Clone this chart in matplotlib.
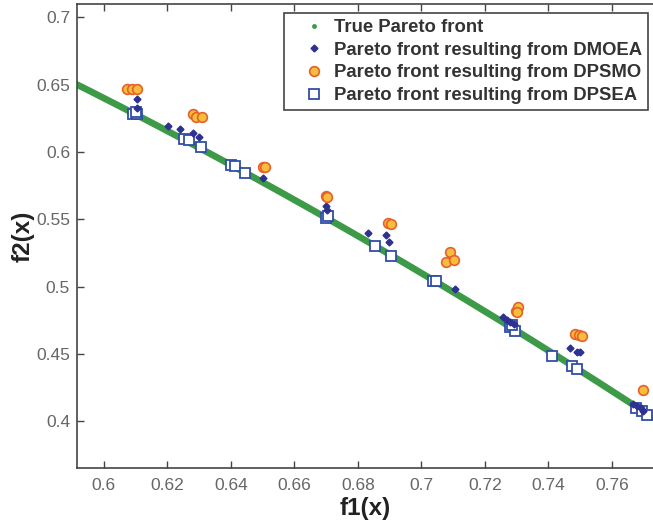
import matplotlib
matplotlib.use("Agg")
import matplotlib.pyplot as plt

# True Pareto front (read along the green band)
true_f1 = [0.591, 0.595, 0.600, 0.605, 0.610, 0.615, 0.620, 0.625, 0.630, 0.635,
           0.640, 0.645, 0.650, 0.655, 0.660, 0.665, 0.670, 0.675, 0.680, 0.685,
           0.690, 0.695, 0.700, 0.705, 0.710, 0.715, 0.720, 0.725, 0.730, 0.735,
           0.740, 0.745, 0.750, 0.755, 0.760, 0.765, 0.770, 0.775]
true_f2 = [0.6507, 0.6460, 0.6400, 0.6340, 0.6279, 0.6218, 0.6156, 0.6094, 0.6031, 0.5968,
           0.5904, 0.5840, 0.5775, 0.5710, 0.5644, 0.5578, 0.5511, 0.5444, 0.5376, 0.5308,
           0.5239, 0.5170, 0.5100, 0.5030, 0.4959, 0.4888, 0.4816, 0.4744, 0.4671, 0.4598,
           0.4524, 0.4450, 0.4375, 0.4300, 0.4224, 0.4148, 0.4071, 0.3994]

# DMOEA
dmoea_f1 = [0.6104, 0.6106, 0.6201, 0.6240, 0.6281, 0.6300, 0.6502, 0.6699, 0.6702,
            0.6832, 0.6890, 0.6897, 0.7106, 0.7257, 0.7270, 0.7280, 0.7290,
            0.7468, 0.7489, 0.7500, 0.7666, 0.7680, 0.7690, 0.7698]
dmoea_f2 = [0.6392, 0.6330, 0.6193, 0.6168, 0.6143, 0.6113, 0.5807, 0.5595, 0.5570,
            0.5396, 0.5383, 0.5334, 0.4985, 0.4776, 0.4750, 0.4740, 0.4724,
            0.4541, 0.4516, 0.4511, 0.4125, 0.4110, 0.4095, 0.4073]

# DPSMO
dpsmo_f1 = [0.6072, 0.6088, 0.6104, 0.6280, 0.6290, 0.6309, 0.6500, 0.6508, 0.6699,
            0.6702, 0.6895, 0.6905, 0.7090, 0.7077, 0.7102, 0.7298, 0.7305, 0.7302,
            0.7483, 0.7495, 0.7505, 0.7697]
dpsmo_f2 = [0.6467, 0.6467, 0.6465, 0.6280, 0.6261, 0.6256, 0.5889, 0.5887, 0.5672,
            0.5665, 0.5470, 0.5465, 0.5254, 0.5184, 0.5196, 0.4822, 0.4845, 0.4810,
            0.4648, 0.4640, 0.4631, 0.4232]

# DPSEA
dpsea_f1 = [0.6093, 0.6105, 0.6100, 0.6253, 0.6267, 0.6306, 0.6402, 0.6413, 0.6444,
            0.6701, 0.6706, 0.6854, 0.6903, 0.7035, 0.7045, 0.7279, 0.7294, 0.7285,
            0.7412, 0.7473, 0.7489, 0.7676, 0.7694, 0.7709]
dpsea_f2 = [0.6285, 0.6280, 0.6300, 0.6093, 0.6086, 0.6036, 0.5906, 0.5894, 0.5844,
            0.5508, 0.5525, 0.5304, 0.5229, 0.5045, 0.5040, 0.4698, 0.4673, 0.4715,
            0.4486, 0.4407, 0.4389, 0.4100, 0.4075, 0.4043]

plt.rcParams['font.family'] = ['Liberation Sans', 'DejaVu Sans']

fig = plt.figure(figsize=(6.53, 5.25), dpi=100)
ax = fig.add_axes([0.118, 0.1086, 0.882, 0.8836])

green = '#3d9a47'
ax.plot(true_f1, true_f2, '-', color=green, lw=4.8, solid_capstyle='butt', zorder=2)
ax.plot(true_f1, true_f2, '.', color=green, ms=5, zorder=2, label='True Pareto front')
ax.plot(dmoea_f1, dmoea_f2, 'D', color='#2d3190', ms=3.5, ls='none', zorder=4,
        label='Pareto front resulting from DMOEA')
ax.plot(dpsmo_f1, dpsmo_f2, 'o', mfc='#f6bd3c', mec='#e6602a', mew=1.2, ms=7, ls='none',
        zorder=5, label='Pareto front resulting from DPSMO')
ax.plot(dpsea_f1, dpsea_f2, 's', mfc='white', mec='#2f4ea6', mew=1.3, ms=7.5, ls='none',
        zorder=3, label='Pareto front resulting from DPSEA')

ax.set_xlim(0.5916, 0.7729)
ax.set_ylim(0.3653, 0.7098)
ax.set_xticks([0.6, 0.62, 0.64, 0.66, 0.68, 0.7, 0.72, 0.74, 0.76])
ax.set_xticklabels(['0.6', '0.62', '0.64', '0.66', '0.68', '0.7', '0.72', '0.74', '0.76'])
ax.set_yticks([0.4, 0.45, 0.5, 0.55, 0.6, 0.65, 0.7])
ax.set_yticklabels(['0.4', '0.45', '0.5', '0.55', '0.6', '0.65', '0.7'])

ax.tick_params(direction='in', length=5, width=1, colors='#444444', labelcolor='#666666',
               labelsize=12.5, top=True, right=False)
ax.tick_params(axis='x', pad=7)
ax.tick_params(axis='y', pad=5)
for side in ['left', 'bottom', 'top']:
    ax.spines[side].set_color('#444444')
    ax.spines[side].set_linewidth(1.2)
ax.spines['right'].set_visible(False)

ax.set_xlabel('f1(x)', fontsize=17.5, fontweight='bold', color='#222222', labelpad=3)
ax.set_ylabel('f2(x)', fontsize=17.5, fontweight='bold', color='#222222', labelpad=1)

leg = ax.legend(loc='upper right', bbox_to_anchor=(0.992, 0.981), borderaxespad=0,
                fancybox=False, edgecolor='#444444', framealpha=1,
                prop={'weight': 'bold', 'size': 13.3}, labelspacing=0.3,
                handlelength=2.55, handletextpad=-0.2, borderpad=0.35)
leg.get_frame().set_linewidth(1.2)
for t in leg.get_texts():
    t.set_color('#333333')

fig.savefig('out.png', dpi=100)
